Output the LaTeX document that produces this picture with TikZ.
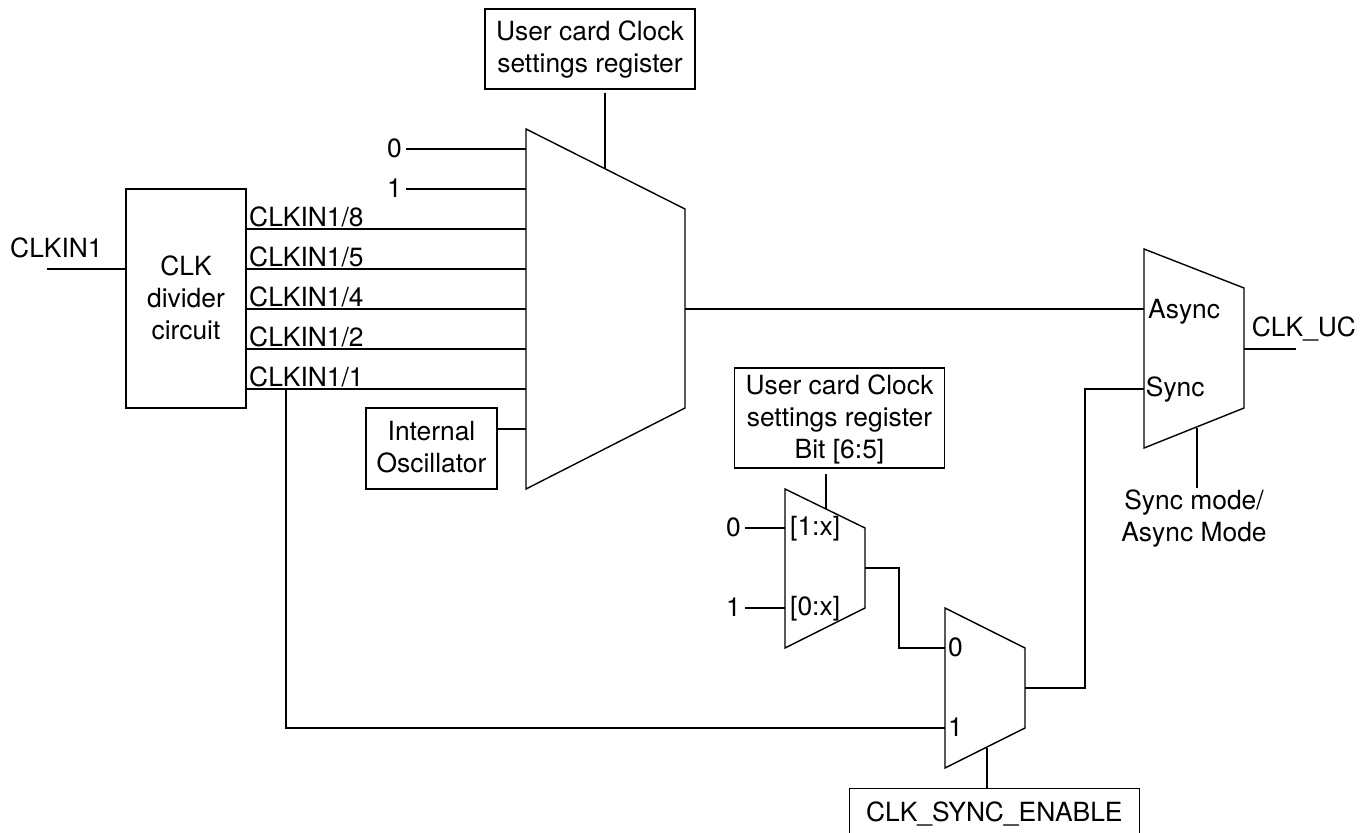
\documentclass[tikz,border=0pt]{standalone}
\usepackage{fontspec}
\setmainfont{TeX Gyre Heros}
\newcommand{\hstrut}[1]{\rule{0pt}{#1pt}}
\newcommand{\dstrut}[1]{\rule[-#1pt]{0pt}{1pt}}
\begin{document}
\begin{tikzpicture}[x=1pt,y=-1pt,
  wire/.style={line width=1.4pt,line join=miter},
  box/.style={draw,line width=1.4pt,inner sep=0pt,align=center,font=\fontsize{26.4}{32}\selectfont},
  lab/.style={inner sep=0pt,font=\fontsize{26.4}{32}\selectfont,anchor=base west},
  labe/.style={inner sep=0pt,font=\fontsize{26.4}{32}\selectfont,anchor=base east}]
\useasboundingbox (0,0) rectangle (1369,833);
% boxes
\node[box,minimum width=210pt,minimum height=80pt] (reg1) at (590,49) {\hstrut{21.6}User card Clock\\settings register};
\node[box,minimum width=120pt,minimum height=219pt] (div) at (186,298.5) {CLK\\divider\\circuit\dstrut{2}};
\node[box,minimum width=131pt,minimum height=81pt] (osc) at (431.5,448.5) {Internal\\Oscillator\dstrut{2.6}};
\node[box,minimum width=210pt,minimum height=100pt] (reg2) at (839.5,418) {\hstrut{22.6}User card Clock\\settings register\\Bit [6:5]};
\node[box,minimum width=290pt,minimum height=50pt,anchor=north] (en) at (994.3,788) {CLK\_SYNC\_ENABLE};
% muxes
\draw[wire] (526,129) -- (685,209) -- (685,408) -- (526,489) -- cycle;
\draw[wire] (1144,249) -- (1244,288) -- (1244,408) -- (1144,448) -- cycle;
\draw[wire] (785,489) -- (865,528) -- (865,608) -- (785,648) -- cycle;
\draw[wire] (945,608) -- (1025,648) -- (1025,728) -- (945,768) -- cycle;
% port coordinates
\coordinate (m1t) at (605,169);
\coordinate (m1i0) at (526,149);
\coordinate (m1i1) at (526,189);
\coordinate (m1i8) at (526,229);
\coordinate (m1i5) at (526,269);
\coordinate (m1i4) at (526,309);
\coordinate (m1i2) at (526,349);
\coordinate (m1i1b) at (526,389);
\coordinate (m1io) at (526,429);
\coordinate (m1o) at (685,309);
\coordinate (m2a) at (1144,309);
\coordinate (m2s) at (1144,389);
\coordinate (m2b) at (1197,428);
\coordinate (m2o) at (1244,349);
\coordinate (m3t) at (826,509);
\coordinate (m3a) at (785,528);
\coordinate (m3b) at (785,608);
\coordinate (m3o) at (865,568);
\coordinate (m4a) at (945,648);
\coordinate (m4b) at (945,728);
\coordinate (m4o) at (1025,688);
\coordinate (m4c) at (987,748);
% free ends
\coordinate (cin) at (46.5,269);
\coordinate (cout) at (1295.7,349);
\coordinate (smt) at (1197,488);
\coordinate (reg1g) at (605,92.7);
\coordinate (reg2g) at (826,474);
\coordinate (z1w) at (406,149);
\coordinate (o1w) at (406,189);
\coordinate (z2w) at (745,528);
\coordinate (o2w) at (745,608);
% free-end labels
\node[labe] (z1) at (402,157) {0};
\node[labe] (o1) at (402,197) {1};
\node[labe] (z2) at (741,536) {0};
\node[labe] (o2) at (741,616) {1};
\node[lab] (clkin) at (10,257) {CLKIN1};
\node[lab] (clkuc) at (1251.7,336.7) {CLK\_UC};
\node[inner sep=0pt,align=center,font=\fontsize{26.4}{32}\selectfont,anchor=base] (sm) at (1194,541.5) {Sync mode/\\Async Mode};
% connectors
\draw[wire] (reg1g) -- (m1t);
\draw[wire] (z1w) -- (m1i0);
\draw[wire] (o1w) -- (m1i1);
\draw[wire] (div.east |- m1i8) -- (m1i8);
\draw[wire] (div.east |- m1i5) -- (m1i5);
\draw[wire] (div.east |- m1i4) -- (m1i4);
\draw[wire] (div.east |- m1i2) -- (m1i2);
\draw[wire] (div.east |- m1i1b) -- (m1i1b);
\draw[wire] (osc.east |- m1io) -- (m1io);
\draw[wire] (cin) -- (div.west |- cin);
\draw[wire] (m1o) -- (m2a);
\draw[wire] (m2o) -- (cout);
\draw[wire] (m2b) -- (smt);
\draw[wire] (reg2g) -- (m3t);
\draw[wire] (z2w) -- (m3a);
\draw[wire] (o2w) -- (m3b);
\draw[wire] (m3o) -- (899,568) -- (899,648) -- (m4a);
\draw[wire] (m4o) -- (1085,688) -- (1085,389) -- (m2s);
\draw[wire] (286,389) -- (286,728) -- (m4b);
\draw[wire] (m4c) -- (en.north -| m4c);
% labels
\foreach \n/\y/\t in {l8/226.7/8,l5/266.7/5,l4/306.7/4,l2/346.7/2,l1/386.7/1}
  \node[lab] (\n) at (249,\y) {CLKIN1/\t};
\node[lab] (asy) at (1148,318) {Async};
\node[lab] (syn) at (1145.7,396.7) {Sync};
\node[lab] (b1) at (790,535.7) {[1:x]};
\node[lab] (b0) at (790,615.7) {[0:x]};
\node[lab] (p0) at (948,656) {0};
\node[lab] (p1) at (948,736) {1};
\end{tikzpicture}
\end{document}
